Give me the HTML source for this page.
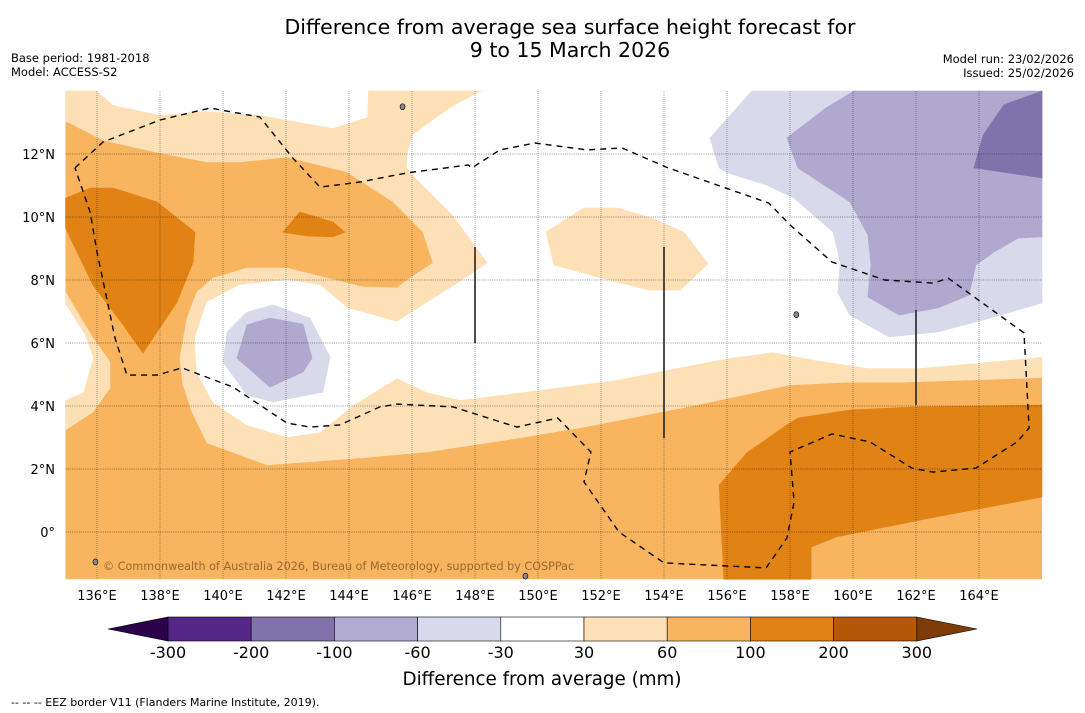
<!DOCTYPE html>
<html><head><meta charset="utf-8"><style>
body{margin:0;background:#fff;}
svg{display:block;font-family:"DejaVu Sans","Liberation Sans",sans-serif;}
</style></head><body>
<svg id="chart" width="1085" height="713" viewBox="0 0 1085 713">
<text x="570" y="34" font-size="20.5" text-anchor="middle">Difference from average sea surface height forecast for</text>
<text x="570" y="57" font-size="20.5" text-anchor="middle">9 to 15 March 2026</text>
<text x="11" y="62" font-size="11.5">Base period: 1981-2018</text>
<text x="11" y="76" font-size="11.5">Model: ACCESS-S2</text>
<text x="1074" y="63" font-size="11.5" text-anchor="end">Model run: 23/02/2026</text>
<text x="1074" y="77" font-size="11.5" text-anchor="end">Issued: 25/02/2026</text>
<g id="map"></g>
<g id="cbar"></g>
<text x="542" y="685" font-size="18.3" text-anchor="middle">Difference from average (mm)</text>
<text x="11" y="706" font-size="11">--  --  -- EEZ border V11 (Flanders Marine Institute, 2019).</text>
</svg>
<script>
const lonTicks=[136,138,140,142,144,146,148,150,152,154,156,158,160,162,164];
const latTicks=[0,2,4,6,8,10,12];
const cbarLevels=[-300,-200,-100,-60,-30,30,60,100,200,300];
const cbarColors=["#542788","#8073ac","#b2abd2","#d8daeb","#ffffff","#fee0b6","#f8b45e","#e08214","#b35806"];
const pale1=[[135,14],[166,14],[166,4.9],[161.59,4.76],[159.9,4.76],[158,4.67],[155.02,4.03],[151.46,3.33],[148.79,2.89],[146.48,2.54],[144.35,2.35],[141.4,2.13],[139.49,2.83],[139.02,3.81],[138.73,4.67],[138.63,5.52],[138.86,6.79],[139.17,7.62],[139.68,8.06],[140.76,8.38],[142.03,8.38],[143.3,8.06],[144.44,7.78],[145.52,7.75],[145.94,8.06],[146.67,8.54],[146.35,9.52],[145.4,10.48],[143.94,11.43],[142.03,11.9],[140.54,11.75],[139.49,11.75],[138,12.03],[136.19,12.44],[135,13.05]];
const pale2=[[135,7.62],[135.87,6.16],[136.41,5.4],[136.41,4.57],[135.87,3.81],[135,3.24]];
const white1=[[136,14],[136.51,13.56],[138,13.24],[139.37,13.37],[141.17,13.24],[143.49,12.83],[144.57,13.17],[144.6,14]];
const white2=[[148.22,14],[166,14],[166,5.56],[162.13,5.21],[160.47,5.21],[158.79,5.46],[157.46,5.71],[156.02,5.52],[152.48,4.83],[148.79,4.35],[147.52,4.19],[146.48,4.44],[145.52,4.89],[144.13,4.03],[143.08,3.17],[142.03,3.02],[140.76,3.4],[139.68,4.13],[139.17,5.08],[139.11,6.16],[139.49,7.3],[140.54,7.84],[142.03,8.0],[143.08,7.84],[143.94,7.11],[145.52,6.67],[147.52,7.94],[148.41,8.54],[147.3,10.06],[146.03,11.33],[145.84,11.56],[145.87,12.06],[146.03,12.6],[147.21,13.46]];
const white3=[[135,7.21],[135.62,6.25],[135.87,5.52],[135.56,4.44],[135,4.19]];
const paleBlob=[[150.25,9.52],[151.46,10.29],[152.51,10.29],[153.59,9.97],[154.63,9.52],[155.4,8.51],[154.51,7.68],[153.52,7.68],[152.03,8.06],[150.5,8.48]];
const purpleLight=[[156.79,14],[155.46,12.51],[155.75,11.56],[156.02,11.4],[157.24,11.02],[158.13,10.6],[159.37,9.52],[159.59,8.57],[159.52,7.59],[159.9,6.89],[161.14,6.19],[162.7,6.35],[164.35,6.79],[166,7.27],[166,14]];
const purpleMid=[[160.03,14],[159.14,13.46],[157.9,12.51],[158.25,11.56],[159.9,10.48],[160.47,9.43],[160.57,8.48],[160.47,7.46],[161.46,6.89],[162.7,7.11],[163.68,7.52],[163.9,8.48],[164.48,8.89],[165.24,9.33],[166,9.37],[166,14]];
const purpleDark=[[166,14],[164.79,13.56],[164.13,12.6],[163.84,11.56],[166,11.24]];
const purpleLightW=[[141.59,7.21],[142.76,6.79],[143.4,5.56],[143.17,4.44],[141.59,4.13],[140.76,4.35],[140,5.4],[140.13,6.35],[140.76,6.98]];
const purpleMidW=[[141.49,6.79],[142.54,6.6],[142.83,5.52],[142.54,5.08],[141.49,4.6],[140.44,5.52],[140.76,6.57]];
const orangeDark1=[[135,10.6],[135.78,10.92],[136.51,10.92],[137.9,10.48],[139.11,9.52],[139.05,8.57],[138.54,7.3],[137.46,5.68],[136.83,6.57],[135.87,7.84],[135,9.65]];
const orangeDark2=[[141.9,9.52],[142.44,10.16],[143.49,9.84],[143.87,9.52],[143.49,9.37],[142.67,9.4]];
const orangeDark3=[[166,4.03],[161.9,3.97],[159.9,3.87],[158.25,3.62],[157.9,3.4],[156.63,2.51],[155.75,1.49],[155.9,-1.5],[158.67,-1.5],[158.67,-0.48],[159.46,-0.16],[162.44,0.44],[166,1.11]];
const eez=[[135.3,11.56],[136.19,12.38],[138,13.08],[139.59,13.46],[141.17,13.17],[142.22,11.87],[143.08,10.95],[144.35,11.11],[145.84,11.4],[147.78,11.65],[147.9,11.56],[148.79,12.13],[149.9,12.35],[151.56,12.13],[152.67,12.19],[154.13,11.56],[157.33,10.44],[158,9.75],[159.33,8.57],[161.01,8.0],[162.57,7.9],[163.02,8.06],[165.43,6.32],[165.59,3.3],[165.21,2.86],[163.9,2.03],[162.54,1.9],[161.87,2.03],[160.54,2.86],[159.33,3.11],[158,2.54],[158.13,0.95],[157.9,-0.19],[157.24,-1.14],[154,-0.98],[152.57,0],[151.46,1.59],[151.68,2.54],[150.63,3.62],[149.33,3.33],[147.3,3.97],[145.52,4.06],[144.98,3.97],[143.71,3.4],[142.76,3.33],[142.03,3.46],[140.32,4.6],[138.7,5.21],[137.9,4.98],[136.95,4.98],[136.57,6.16],[136,8.89],[135.78,10.16],[135.3,11.56]];
const segLons=[148,154,162];
const segTop=[9.05,9.05,7.05];
const segBot=[6.0,2.98,4.03];

const NS="http://www.w3.org/2000/svg";
const X=lon=>65.5+(lon-135)*31.5;
const Y=lat=>91+(14-lat)*31.5;
const map=document.getElementById('map');
function mk(tag,attrs,parent){const e=document.createElementNS(NS,tag);for(const k in attrs)e.setAttribute(k,attrs[k]);parent.appendChild(e);return e;}
const pts=a=>a.map(p=>X(p[0]).toFixed(1)+','+Y(p[1]).toFixed(1)).join(' ');

let bg=mk('rect',{x:X(135),y:Y(14),width:X(166)-X(135),height:Y(-1.5)-Y(14),fill:"#f8b45e"},map);


const layers=[[pale1,"#fde0b6","pale-region-north"],[pale2,"#fde0b6","pale-region-west"],[white1,"#ffffff","neutral-region-top"],[white2,"#ffffff","neutral-region-main"],[white3,"#ffffff","neutral-region-west"],[paleBlob,"#fde0b6","pale-region-central"],[purpleLight,"#d8d9ea","purple-light-region-east"],[purpleMid,"#b0a8cf","purple-mid-region-east"],[purpleDark,"#8073ab","purple-dark-region-east"],[purpleLightW,"#d8d9ea","purple-light-region-west"],[purpleMidW,"#b0a8cf","purple-mid-region-west"],[orangeDark1,"#e08214","dark-orange-region-west"],[orangeDark2,"#e08214","dark-orange-region-small"],[orangeDark3,"#e08214","dark-orange-region-southeast"]];
for(const [poly,col,name] of layers){
  const p=mk('polygon',{points:pts(poly),fill:col,stroke:col,'stroke-width':0.6},map);
  
  
}
for(const lon of lonTicks){
  const l=mk('line',{x1:X(lon),x2:X(lon),y1:Y(14),y2:Y(-1.5),stroke:"rgba(0,0,0,0.35)",'stroke-width':0.9,'stroke-dasharray':'1,1'},map);
  
  
  const t=mk('text',{x:X(lon),y:600,'font-size':13,'text-anchor':'middle'},map);
  t.textContent=lon+'°E';
  
  
}
for(const lat of latTicks){
  const l=mk('line',{x1:X(135),x2:X(166),y1:Y(lat),y2:Y(lat),stroke:"rgba(0,0,0,0.4)",'stroke-width':1,'stroke-dasharray':'1,1.2'},map);
  
  
  const t=mk('text',{x:55,y:Y(lat)+5,'font-size':13,'text-anchor':'end'},map);
  t.textContent=lat===0?'0°':lat+'°N';
  
  
}
const eezL=mk('polyline',{points:pts(eez),fill:'none',stroke:'#000','stroke-width':1.4,'stroke-dasharray':'6,5'},map);


segLons.forEach((lon,i)=>{
  const s=mk('line',{x1:X(lon),x2:X(lon),y1:Y(segTop[i]),y2:Y(segBot[i]),stroke:'#222','stroke-width':1.6},map);
  
  
});
const islands=[[145.7,13.5],[135.95,-0.95],[158.2,6.9],[149.6,-1.4]];
for(const [lo,la] of islands){
  const c=mk('ellipse',{cx:X(lo),cy:Y(la),rx:2.5,ry:3,fill:'#888',stroke:'#000','stroke-width':0.6},map);
  
  
}
const cp=mk('text',{x:103,y:570,'font-size':11.2,fill:'rgba(120,80,30,0.75)'},map);
cp.textContent='© Commonwealth of Australia 2026, Bureau of Meteorology, supported by COSPPac';



const cb=document.getElementById('cbar');
const cx0=168,cw=83.2,cy=617,ch=24;
const lt=mk('polygon',{points:`108,${cy+ch/2} ${cx0},${cy} ${cx0},${cy+ch}`,fill:'#2d004b',stroke:'#000','stroke-width':0.6},cb);


const rt=mk('polygon',{points:`${cx0+9*cw},${cy} ${977},${cy+ch/2} ${cx0+9*cw},${cy+ch}`,fill:'#7f3b08',stroke:'#000','stroke-width':0.6},cb);


cbarColors.forEach((c,i)=>{
  const r=mk('rect',{x:cx0+i*cw,y:cy,width:cw,height:ch,fill:c,stroke:'#000','stroke-width':0.6},cb);
  
  
});
cbarLevels.forEach((v,i)=>{
  const t=mk('text',{x:cx0+i*cw,y:658,'font-size':16,'text-anchor':'middle'},cb);
  t.textContent=v;
  
  
});
</script>
</body></html>
